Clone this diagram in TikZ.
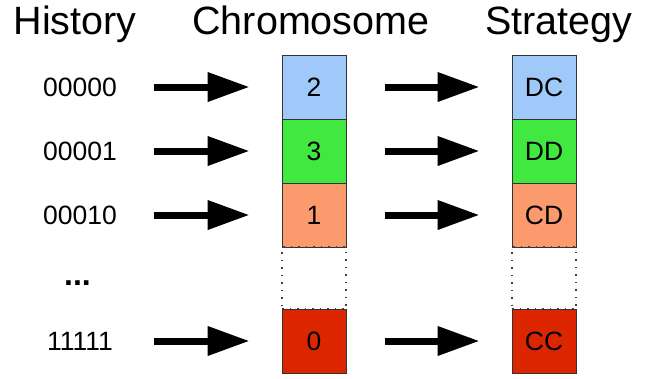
\documentclass[tikz,border=0pt]{standalone}
\usepackage{fontspec}
\setmainfont{Liberation Sans}
\usetikzlibrary{arrows.meta}

\definecolor{cellblue}{HTML}{9FC9F8}
\definecolor{cellgreen}{HTML}{40E840}
\definecolor{cellorange}{HTML}{FB9A6C}
\definecolor{cellred}{HTML}{DC2600}
\definecolor{cellframe}{HTML}{333333}

\tikzset{
  title/.style={font=\fontsize{39.5}{44}\selectfont, anchor=base, inner sep=0pt},
  histlabel/.style={font=\fontsize{26.5}{30}\selectfont, inner sep=0pt},
  cell/.style={draw=cellframe, line width=1pt, minimum width=64pt, minimum height=64pt,
               inner sep=0pt, font=\fontsize{26.5}{30}\selectfont},
  gapcell/.style={draw=black!75, dash pattern=on 1.5pt off 6pt, line width=1.2pt,
                  minimum width=64pt, minimum height=62pt, inner sep=0pt},
  conn/.style={line width=7pt, -{Triangle[length=42pt, width=28pt]}},
}

\begin{document}
\begin{tikzpicture}[x=1pt, y=-1pt]
  \useasboundingbox (0,0) rectangle (651,378);

  % column headings
  \node[title] (tH) at (75,34) {History};
  \node[title] (tC) at (311,34) {Chromosome};
  \node[title] (tS) at (559,34) {Strategy};

  % history codes
  \node[histlabel] (h1) at (80,87)  {00000};
  \node[histlabel] (h2) at (80,151) {00001};
  \node[histlabel] (h3) at (80,215) {00010};
  \node[font=\bfseries\fontsize{32}{36}\selectfont, anchor=base, inner sep=0pt] (hdots) at (77.5,285.5) {...};
  \node[histlabel] (h5) at (80,341) {11111};

  % chromosome cells
  \node[cell, fill=cellblue]   (c1) at (314,87)  {2};
  \node[cell, fill=cellgreen]  (c2) at (314,151) {3};
  \node[cell, fill=cellorange] (c3) at (314,215) {1};
  \node[gapcell]               (c4) at (314,278) {};
  \node[cell, fill=cellred]    (c5) at (314,341) {0};

  % strategy cells
  \node[cell, fill=cellblue]   (s1) at (544,87)  {DC};
  \node[cell, fill=cellgreen]  (s2) at (544,151) {DD};
  \node[cell, fill=cellorange] (s3) at (544,215) {CD};
  \node[gapcell]               (s4) at (544,278) {};
  \node[cell, fill=cellred]    (s5) at (544,341) {CC};

  % history -> chromosome -> strategy
  \foreach \i in {1,2,3,5} {
    \draw[conn] ([xshift=74pt]h\i.center) -- ([xshift=-32pt]c\i.west);
    \draw[conn] ([xshift=38pt]c\i.east) -- ([xshift=-32pt]s\i.west);
  }
\end{tikzpicture}
\end{document}
